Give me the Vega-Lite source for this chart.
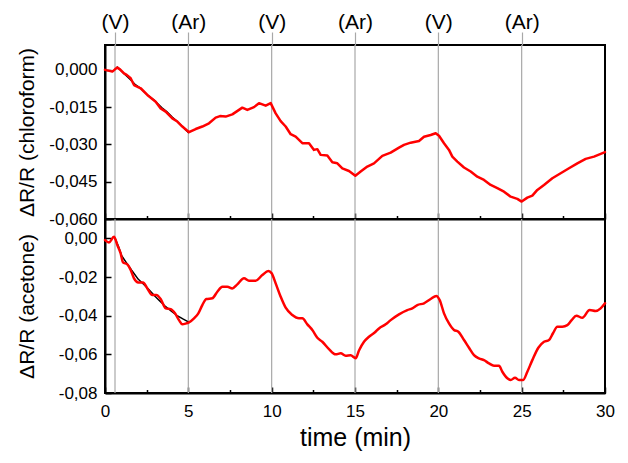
{
  "$schema": "https://vega.github.io/schema/vega-lite/v6.json",
  "background": "white",
  "padding": {"left": 14, "top": 10, "right": 22, "bottom": 5},
  "spacing": 0,
  "bounds": "flush",
  "config": {
    "font": "Liberation Sans",
    "view": {"stroke": "black", "strokeWidth": 2},
    "axis": {"grid": false, "domainColor": "black", "domainWidth": 2, "tickColor": "black", "tickWidth": 1.5, "labelColor": "black", "titleColor": "black", "titleFontWeight": "normal", "labelFont": "Liberation Sans", "titleFont": "Liberation Sans", "labelFontSize": 17, "titleFontSize": 21},
    "line": {"strokeJoin": "round", "strokeCap": "round"}
  },
  "datasets": {
    "events": [
      {"t": 0.6}, {"t": 5}, {"t": 10}, {"t": 15}, {"t": 20}, {"t": 25}
    ],
    "chloroform": [
      {"run": "1", "t": 0.74, "v": 0.0011}, {"run": "1", "t": 1.1, "v": -0.0012}, {"run": "1", "t": 1.5, "v": -0.0038}, {"run": "1", "t": 1.8, "v": -0.0058}, {"run": "1", "t": 2.1, "v": -0.0072}, {"run": "1", "t": 2.5, "v": -0.0098}, {"run": "1", "t": 3.0, "v": -0.0125}, {"run": "1", "t": 3.4, "v": -0.0152}, {"run": "1", "t": 3.7, "v": -0.0168}, {"run": "1", "t": 4.0, "v": -0.0188}, {"run": "1", "t": 4.4, "v": -0.0212}, {"run": "1", "t": 4.7, "v": -0.0232}, {"run": "1", "t": 5.0, "v": -0.0252},
      {"run": "2", "t": 0.0, "v": 0.0}, {"run": "2", "t": 0.2, "v": -0.0003}, {"run": "2", "t": 0.44, "v": -0.0007}, {"run": "2", "t": 0.6, "v": 0.0002}, {"run": "2", "t": 0.74, "v": 0.0009}, {"run": "2", "t": 0.9, "v": 0.0002}, {"run": "2", "t": 1.14, "v": -0.0014}, {"run": "2", "t": 1.3, "v": -0.002}, {"run": "2", "t": 1.54, "v": -0.0034}, {"run": "2", "t": 1.74, "v": -0.0061}, {"run": "2", "t": 2.14, "v": -0.0074}, {"run": "2", "t": 2.54, "v": -0.0101}, {"run": "2", "t": 3.04, "v": -0.0128}, {"run": "2", "t": 3.34, "v": -0.0155}, {"run": "2", "t": 3.64, "v": -0.0168}, {"run": "2", "t": 4.04, "v": -0.0195}, {"run": "2", "t": 4.34, "v": -0.0208}, {"run": "2", "t": 4.64, "v": -0.0228}, {"run": "2", "t": 5.04, "v": -0.0251}, {"run": "2", "t": 5.44, "v": -0.0238}, {"run": "2", "t": 5.84, "v": -0.0228}, {"run": "2", "t": 6.24, "v": -0.0215}, {"run": "2", "t": 6.64, "v": -0.0192}, {"run": "2", "t": 6.9, "v": -0.0186}, {"run": "2", "t": 7.24, "v": -0.0188}, {"run": "2", "t": 7.64, "v": -0.0179}, {"run": "2", "t": 8.24, "v": -0.0152}, {"run": "2", "t": 8.54, "v": -0.0161}, {"run": "2", "t": 8.94, "v": -0.015}, {"run": "2", "t": 9.24, "v": -0.0134}, {"run": "2", "t": 9.64, "v": -0.0144}, {"run": "2", "t": 9.94, "v": -0.0134}, {"run": "2", "t": 10.24, "v": -0.0175}, {"run": "2", "t": 10.54, "v": -0.0206}, {"run": "2", "t": 10.84, "v": -0.0228}, {"run": "2", "t": 11.14, "v": -0.0259}, {"run": "2", "t": 11.44, "v": -0.0269}, {"run": "2", "t": 11.84, "v": -0.0295}, {"run": "2", "t": 12.24, "v": -0.0295}, {"run": "2", "t": 12.54, "v": -0.0322}, {"run": "2", "t": 12.74, "v": -0.0319}, {"run": "2", "t": 12.94, "v": -0.0342}, {"run": "2", "t": 13.34, "v": -0.0345}, {"run": "2", "t": 13.64, "v": -0.0372}, {"run": "2", "t": 13.94, "v": -0.0376}, {"run": "2", "t": 14.24, "v": -0.0396}, {"run": "2", "t": 14.64, "v": -0.0407}, {"run": "2", "t": 15.02, "v": -0.0426}, {"run": "2", "t": 15.34, "v": -0.0409}, {"run": "2", "t": 15.74, "v": -0.0389}, {"run": "2", "t": 16.14, "v": -0.0376}, {"run": "2", "t": 16.64, "v": -0.0346}, {"run": "2", "t": 17.14, "v": -0.0333}, {"run": "2", "t": 17.64, "v": -0.0313}, {"run": "2", "t": 17.94, "v": -0.0302}, {"run": "2", "t": 18.34, "v": -0.0293}, {"run": "2", "t": 18.84, "v": -0.0286}, {"run": "2", "t": 19.14, "v": -0.0269}, {"run": "2", "t": 19.54, "v": -0.0262}, {"run": "2", "t": 19.84, "v": -0.0255}, {"run": "2", "t": 20.04, "v": -0.0265}, {"run": "2", "t": 20.34, "v": -0.0295}, {"run": "2", "t": 20.64, "v": -0.0322}, {"run": "2", "t": 20.84, "v": -0.0349}, {"run": "2", "t": 21.14, "v": -0.0369}, {"run": "2", "t": 21.54, "v": -0.0393}, {"run": "2", "t": 21.94, "v": -0.0409}, {"run": "2", "t": 22.34, "v": -0.043}, {"run": "2", "t": 22.74, "v": -0.0443}, {"run": "2", "t": 23.14, "v": -0.0463}, {"run": "2", "t": 23.54, "v": -0.0476}, {"run": "2", "t": 23.94, "v": -0.049}, {"run": "2", "t": 24.34, "v": -0.051}, {"run": "2", "t": 24.74, "v": -0.0519}, {"run": "2", "t": 25.0, "v": -0.053}, {"run": "2", "t": 25.34, "v": -0.0514}, {"run": "2", "t": 25.64, "v": -0.0506}, {"run": "2", "t": 25.94, "v": -0.0483}, {"run": "2", "t": 26.34, "v": -0.0463}, {"run": "2", "t": 26.84, "v": -0.0436}, {"run": "2", "t": 27.34, "v": -0.0416}, {"run": "2", "t": 27.84, "v": -0.0396}, {"run": "2", "t": 28.34, "v": -0.0376}, {"run": "2", "t": 28.84, "v": -0.0358}, {"run": "2", "t": 29.34, "v": -0.0349}, {"run": "2", "t": 30.0, "v": -0.0331}
    ],
    "acetone": [
      {"run": "1", "t": 0.6, "v": 0.0}, {"run": "1", "t": 0.8, "v": -0.004}, {"run": "1", "t": 1.0, "v": -0.009}, {"run": "1", "t": 1.3, "v": -0.0128}, {"run": "1", "t": 1.6, "v": -0.0165}, {"run": "1", "t": 2.0, "v": -0.0212}, {"run": "1", "t": 2.3, "v": -0.0236}, {"run": "1", "t": 2.6, "v": -0.0262}, {"run": "1", "t": 3.0, "v": -0.03}, {"run": "1", "t": 3.3, "v": -0.0325}, {"run": "1", "t": 3.6, "v": -0.035}, {"run": "1", "t": 4.0, "v": -0.0378}, {"run": "1", "t": 4.3, "v": -0.0398}, {"run": "1", "t": 4.7, "v": -0.0418}, {"run": "1", "t": 5.0, "v": -0.0432},
      {"run": "2", "t": 0.0, "v": -0.0009}, {"run": "2", "t": 0.24, "v": -0.0021}, {"run": "2", "t": 0.54, "v": 0.0008}, {"run": "2", "t": 0.74, "v": -0.0035}, {"run": "2", "t": 0.94, "v": -0.0078}, {"run": "2", "t": 1.08, "v": -0.0124}, {"run": "2", "t": 1.34, "v": -0.0135}, {"run": "2", "t": 1.54, "v": -0.0164}, {"run": "2", "t": 1.74, "v": -0.0207}, {"run": "2", "t": 2.0, "v": -0.0228}, {"run": "2", "t": 2.28, "v": -0.0228}, {"run": "2", "t": 2.54, "v": -0.0259}, {"run": "2", "t": 2.84, "v": -0.0293}, {"run": "2", "t": 3.08, "v": -0.0293}, {"run": "2", "t": 3.34, "v": -0.0314}, {"run": "2", "t": 3.64, "v": -0.0362}, {"run": "2", "t": 3.94, "v": -0.0366}, {"run": "2", "t": 4.2, "v": -0.0388}, {"run": "2", "t": 4.44, "v": -0.0423}, {"run": "2", "t": 4.64, "v": -0.0445}, {"run": "2", "t": 4.88, "v": -0.044}, {"run": "2", "t": 5.04, "v": -0.0435}, {"run": "2", "t": 5.34, "v": -0.0414}, {"run": "2", "t": 5.6, "v": -0.0388}, {"run": "2", "t": 5.84, "v": -0.0345}, {"run": "2", "t": 6.08, "v": -0.0314}, {"run": "2", "t": 6.44, "v": -0.031}, {"run": "2", "t": 6.74, "v": -0.0276}, {"run": "2", "t": 7.04, "v": -0.025}, {"run": "2", "t": 7.34, "v": -0.025}, {"run": "2", "t": 7.64, "v": -0.0259}, {"run": "2", "t": 7.94, "v": -0.0238}, {"run": "2", "t": 8.34, "v": -0.0207}, {"run": "2", "t": 8.64, "v": -0.0219}, {"run": "2", "t": 9.04, "v": -0.0219}, {"run": "2", "t": 9.44, "v": -0.019}, {"run": "2", "t": 9.8, "v": -0.0169}, {"run": "2", "t": 10.0, "v": -0.0181}, {"run": "2", "t": 10.24, "v": -0.0233}, {"run": "2", "t": 10.54, "v": -0.0302}, {"run": "2", "t": 10.84, "v": -0.0359}, {"run": "2", "t": 11.24, "v": -0.0397}, {"run": "2", "t": 11.64, "v": -0.0414}, {"run": "2", "t": 11.84, "v": -0.0414}, {"run": "2", "t": 12.14, "v": -0.0445}, {"run": "2", "t": 12.44, "v": -0.0474}, {"run": "2", "t": 12.74, "v": -0.0514}, {"run": "2", "t": 13.04, "v": -0.0535}, {"run": "2", "t": 13.44, "v": -0.0573}, {"run": "2", "t": 13.84, "v": -0.06}, {"run": "2", "t": 14.14, "v": -0.0595}, {"run": "2", "t": 14.44, "v": -0.0607}, {"run": "2", "t": 14.74, "v": -0.0605}, {"run": "2", "t": 15.04, "v": -0.062}, {"run": "2", "t": 15.24, "v": -0.058}, {"run": "2", "t": 15.54, "v": -0.0535}, {"run": "2", "t": 15.84, "v": -0.0509}, {"run": "2", "t": 16.2, "v": -0.0486}, {"run": "2", "t": 16.44, "v": -0.0466}, {"run": "2", "t": 16.84, "v": -0.0445}, {"run": "2", "t": 17.14, "v": -0.0423}, {"run": "2", "t": 17.64, "v": -0.0393}, {"run": "2", "t": 18.14, "v": -0.0371}, {"run": "2", "t": 18.44, "v": -0.0362}, {"run": "2", "t": 18.74, "v": -0.0345}, {"run": "2", "t": 19.14, "v": -0.0336}, {"run": "2", "t": 19.54, "v": -0.0314}, {"run": "2", "t": 19.88, "v": -0.0298}, {"run": "2", "t": 20.08, "v": -0.0319}, {"run": "2", "t": 20.34, "v": -0.0388}, {"run": "2", "t": 20.64, "v": -0.044}, {"run": "2", "t": 20.94, "v": -0.0474}, {"run": "2", "t": 21.2, "v": -0.0483}, {"run": "2", "t": 21.54, "v": -0.0526}, {"run": "2", "t": 21.84, "v": -0.0566}, {"run": "2", "t": 22.14, "v": -0.0604}, {"run": "2", "t": 22.44, "v": -0.0621}, {"run": "2", "t": 22.74, "v": -0.063}, {"run": "2", "t": 23.04, "v": -0.0647}, {"run": "2", "t": 23.34, "v": -0.0659}, {"run": "2", "t": 23.64, "v": -0.0659}, {"run": "2", "t": 23.84, "v": -0.069}, {"run": "2", "t": 24.14, "v": -0.0724}, {"run": "2", "t": 24.34, "v": -0.0733}, {"run": "2", "t": 24.6, "v": -0.0721}, {"run": "2", "t": 24.84, "v": -0.0733}, {"run": "2", "t": 25.08, "v": -0.0733}, {"run": "2", "t": 25.34, "v": -0.069}, {"run": "2", "t": 25.64, "v": -0.063}, {"run": "2", "t": 26.0, "v": -0.0566}, {"run": "2", "t": 26.34, "v": -0.0535}, {"run": "2", "t": 26.64, "v": -0.0526}, {"run": "2", "t": 26.88, "v": -0.0491}, {"run": "2", "t": 27.14, "v": -0.0457}, {"run": "2", "t": 27.44, "v": -0.0457}, {"run": "2", "t": 27.74, "v": -0.0449}, {"run": "2", "t": 28.0, "v": -0.0423}, {"run": "2", "t": 28.28, "v": -0.04}, {"run": "2", "t": 28.64, "v": -0.0411}, {"run": "2", "t": 29.08, "v": -0.0371}, {"run": "2", "t": 29.44, "v": -0.0376}, {"run": "2", "t": 29.74, "v": -0.0362}, {"run": "2", "t": 30.0, "v": -0.0336}
    ]
  },
  "vconcat": [
    {
      "width": 500,
      "height": 174,
      "resolve": {"axis": {"x": "independent"}},
      "layer": [
        {
          "data": {"name": "events"},
          "mark": {"type": "rule", "color": "#a8a8a8", "strokeWidth": 1.2},
          "encoding": {
            "x": {"field": "t", "type": "quantitative", "scale": {"domain": [0, 30], "nice": false},
              "axis": {"orient": "top", "values": [0.6, 5, 10, 15, 20, 25], "labelExpr": "(datum.value == 5 || datum.value == 15 || datum.value == 25) ? '(Ar)' : '(V)'", "tickSize": 13, "tickColor": "#a8a8a8", "tickWidth": 1.2, "domain": false, "labelFontSize": 21, "labelPadding": 0, "labelFlush": false, "labelOverlap": false, "title": null}}
          }
        },
        {
          "data": {"name": "chloroform"},
          "transform": [{"filter": "datum.run == '1'"}],
          "mark": {"type": "line", "color": "black", "strokeWidth": 1.5},
          "encoding": {
            "x": {"field": "t", "type": "quantitative", "scale": {"domain": [0, 30], "nice": false},
              "axis": {"orient": "bottom", "values": [0, 2.5, 5, 7.5, 10, 12.5, 15, 17.5, 20, 22.5, 25, 27.5, 30], "labels": false, "tickSize": {"condition": {"test": "datum.value % 5 == 0", "value": -6}, "value": -3.5}, "title": null}},
            "y": {"field": "v", "type": "quantitative", "scale": {"domain": [-0.06, 0.01], "nice": false, "zero": false},
              "axis": {"values": [0.0075, 0, -0.0075, -0.015, -0.0225, -0.03, -0.0375, -0.045, -0.0525, -0.06], "labelExpr": "round(datum.value * 2000) % 30 == 0 ? replace(replace(format(datum.value, '.3f'), '.', ','), '\u2212', '-') : ''", "tickSize": {"condition": {"test": "round(datum.value * 2000) % 30 == 0", "value": -6}, "value": -3.5}, "labelPadding": 14, "title": "ΔR/R (chloroform)", "titleX": -68}}
          }
        },
        {
          "data": {"name": "chloroform"},
          "transform": [{"filter": "datum.run == '2'"}],
          "mark": {"type": "line", "color": "#ff0000", "strokeWidth": 2.5},
          "encoding": {
            "x": {"field": "t", "type": "quantitative", "scale": {"domain": [0, 30], "nice": false}, "axis": null},
            "y": {"field": "v", "type": "quantitative"}
          }
        }
      ]
    },
    {
      "width": 500,
      "height": 174,
      "resolve": {"axis": {"x": "independent"}},
      "layer": [
        {
          "data": {"name": "events"},
          "mark": {"type": "rule", "color": "#a8a8a8", "strokeWidth": 1.2},
          "encoding": {
            "x": {"field": "t", "type": "quantitative", "scale": {"domain": [0, 30], "nice": false}, "axis": null}
          }
        },
        {
          "data": {"name": "acetone"},
          "transform": [{"filter": "datum.run == '1'"}],
          "mark": {"type": "line", "color": "black", "strokeWidth": 1.5},
          "encoding": {
            "x": {"field": "t", "type": "quantitative", "scale": {"domain": [0, 30], "nice": false},
              "axis": {"orient": "bottom", "values": [0, 2.5, 5, 7.5, 10, 12.5, 15, 17.5, 20, 22.5, 25, 27.5, 30], "labelExpr": "datum.value % 5 == 0 ? datum.label : ''", "tickSize": {"condition": {"test": "datum.value % 5 == 0", "value": -6}, "value": -3.5}, "labelPadding": 16, "labelFlush": false, "labelOverlap": false, "title": "time (min)", "titleFontSize": 25, "titlePadding": 4}},
            "y": {"field": "v", "type": "quantitative", "scale": {"domain": [-0.08, 0.01], "nice": false, "zero": false},
              "axis": {"values": [0, -0.01, -0.02, -0.03, -0.04, -0.05, -0.06, -0.07, -0.08], "labelExpr": "round(datum.value * 100) % 2 == 0 ? replace(replace(format(datum.value, '.2f'), '.', ','), '\u2212', '-') : ''", "tickSize": {"condition": {"test": "round(datum.value * 100) % 2 == 0", "value": -6}, "value": -3.5}, "labelPadding": 14, "title": "ΔR/R (acetone)", "titleX": -68}}
          }
        },
        {
          "data": {"name": "acetone"},
          "transform": [{"filter": "datum.run == '2'"}],
          "mark": {"type": "line", "color": "#ff0000", "strokeWidth": 2.5, "interpolate": "monotone"},
          "encoding": {
            "x": {"field": "t", "type": "quantitative", "scale": {"domain": [0, 30], "nice": false}, "axis": null},
            "y": {"field": "v", "type": "quantitative"}
          }
        }
      ]
    }
  ]
}
